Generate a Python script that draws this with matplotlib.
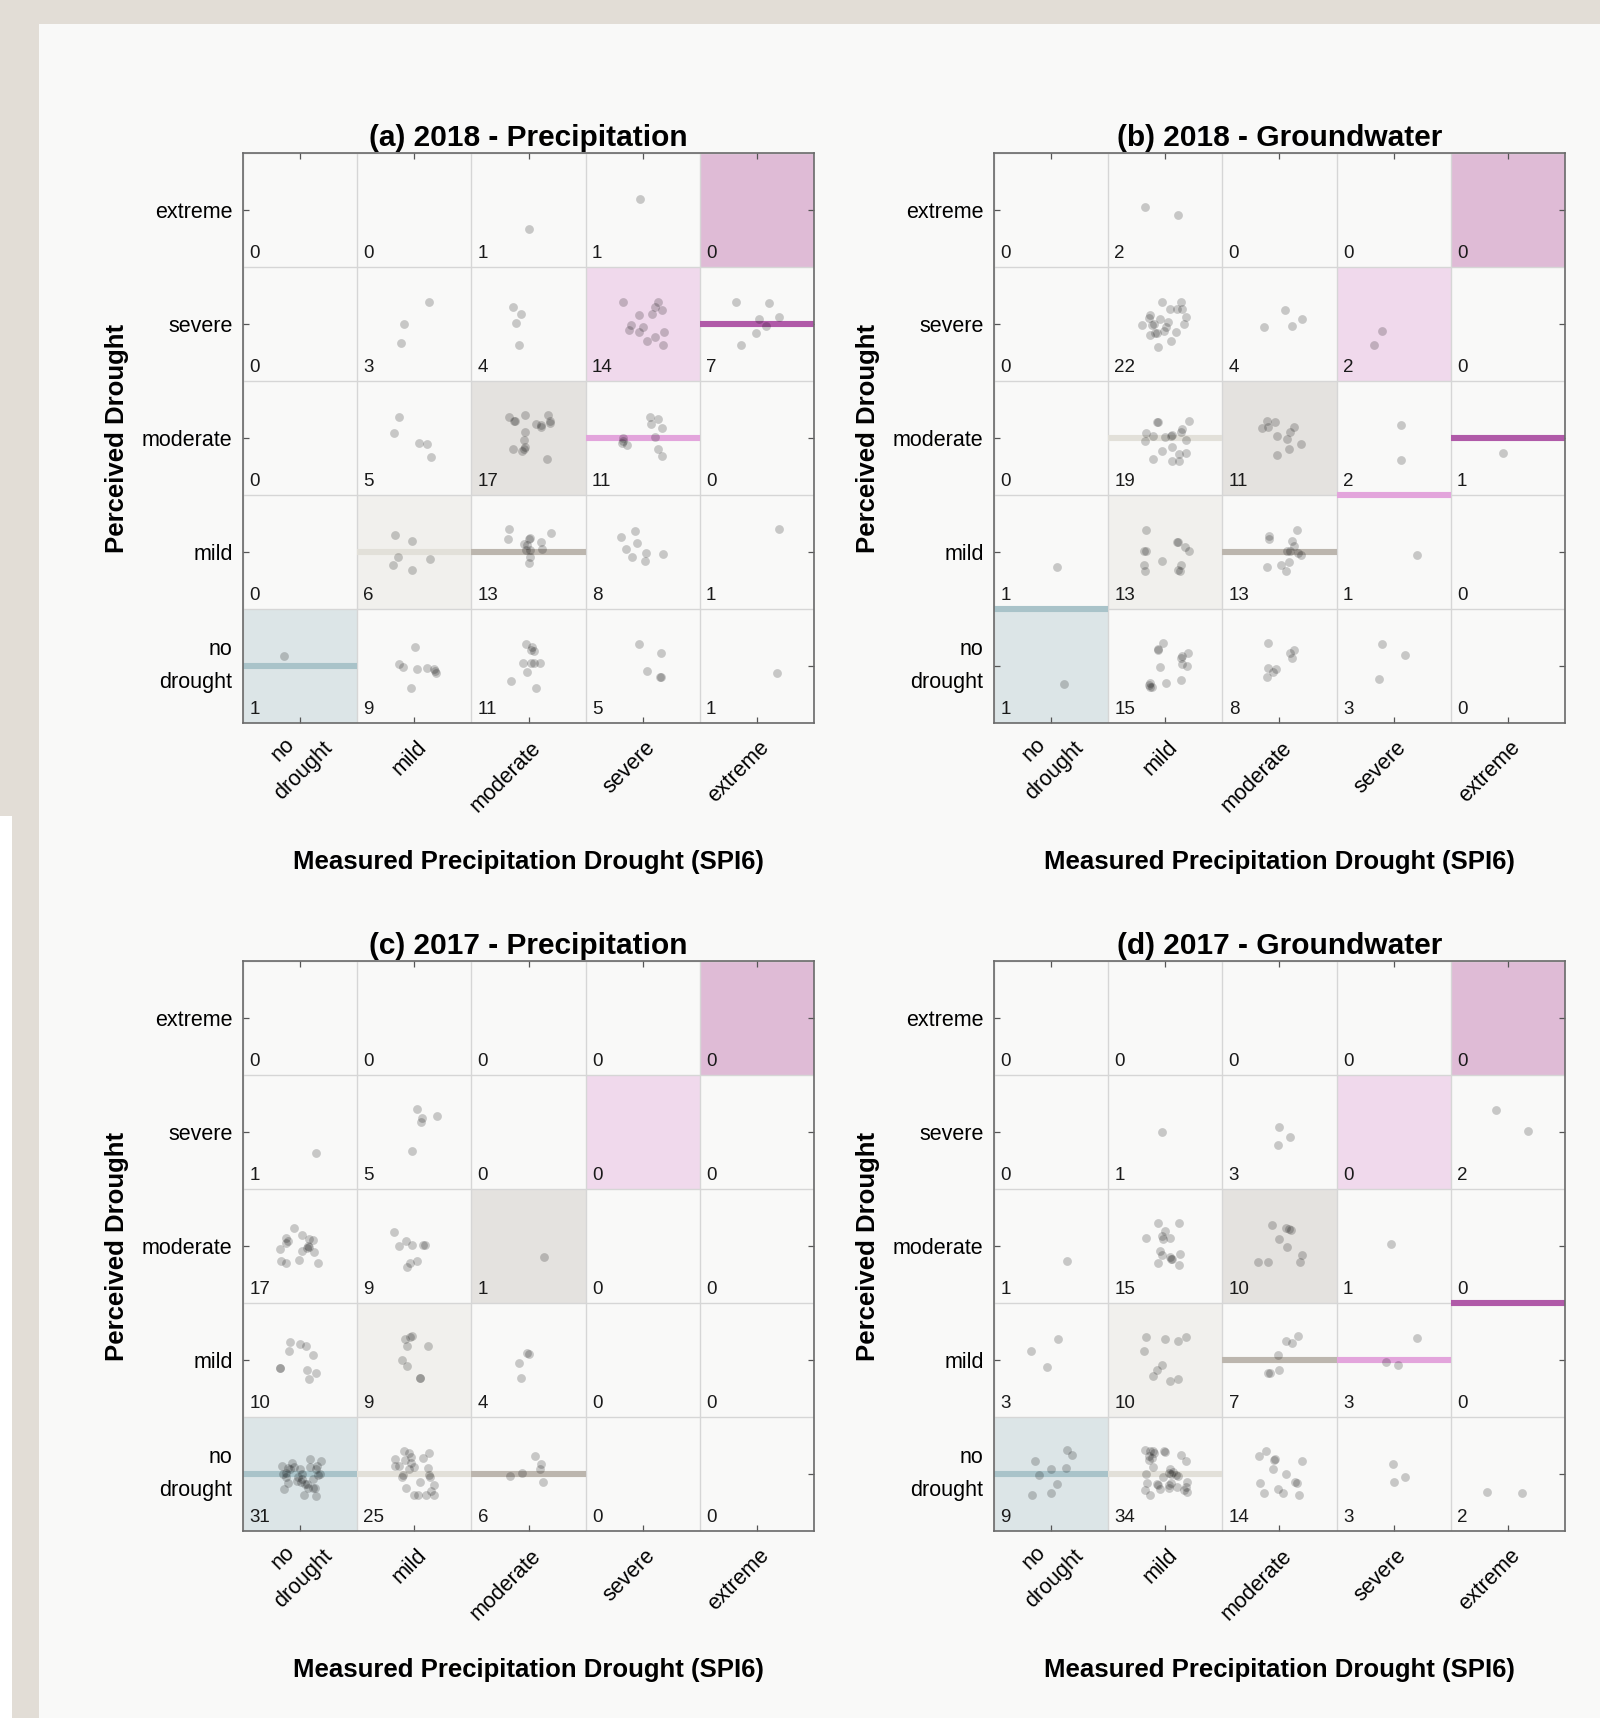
import matplotlib
matplotlib.use("Agg")
import matplotlib.pyplot as plt
import matplotlib.transforms as mtransforms
import numpy as np

from matplotlib.patches import Rectangle

plt.rcParams['font.family'] = ['Liberation Sans', 'DejaVu Sans']

classes = ["no\ndrought", "mild", "moderate", "severe", "extreme"]
titles = ["(a) 2018 - Precipitation", "(b) 2018 - Groundwater",
          "(c) 2017 - Precipitation", "(d) 2017 - Groundwater"]
xlabel = "Measured Precipitation Drought (SPI6)"
ylabel = "Perceived Drought"

# counts per cell, rows from top (extreme) to bottom (no drought),
# columns from no drought to extreme (measured)
counts_a = [[0, 0, 1, 1, 0],
            [0, 3, 4, 14, 7],
            [0, 5, 17, 11, 0],
            [0, 6, 13, 8, 1],
            [1, 9, 11, 5, 1]]
counts_b = [[0, 2, 0, 0, 0],
            [0, 22, 4, 2, 0],
            [0, 19, 11, 2, 1],
            [1, 13, 13, 1, 0],
            [1, 15, 8, 3, 0]]
counts_c = [[0, 0, 0, 0, 0],
            [1, 5, 0, 0, 0],
            [17, 9, 1, 0, 0],
            [10, 9, 4, 0, 0],
            [31, 25, 6, 0, 0]]
counts_d = [[0, 0, 0, 0, 0],
            [0, 1, 3, 0, 2],
            [1, 15, 10, 1, 0],
            [3, 10, 7, 3, 0],
            [9, 34, 14, 3, 2]]

# jittered answers, key = (measured, perceived), values = offsets from cell centre
jit_a = {
    (2, 4): [(0.00, -0.17)],
    (3, 4): [(-0.02, 0.10)],
    (1, 3): [(0.13, 0.19), (-0.09, 0.00), (-0.12, -0.17)],
    (2, 3): [(-0.14, 0.15), (-0.07, 0.09), (-0.11, 0.01), (-0.08, -0.18)],
    (3, 3): [(-0.17, 0.19), (0.13, 0.19), (0.11, 0.15), (0.17, 0.12), (0.08, 0.09), (-0.03, 0.08),
             (-0.10, -0.01), (0.00, -0.03), (-0.12, -0.05), (-0.03, -0.07), (0.19, -0.07),
             (0.11, -0.11), (0.04, -0.15), (0.18, -0.18)],
    (4, 3): [(-0.18, 0.19), (0.11, 0.18), (0.19, 0.06), (0.02, 0.04), (0.08, -0.02), (-0.01, -0.08),
             (-0.14, -0.18)],
    (1, 2): [(-0.13, 0.18), (-0.18, 0.04), (0.04, -0.04), (0.11, -0.05), (0.15, -0.17)],
    (2, 2): [(-0.17, 0.18), (-0.13, 0.15), (-0.12, 0.15), (-0.03, 0.20), (0.17, 0.20), (0.19, 0.15),
             (0.19, 0.13), (0.11, 0.11), (0.07, 0.12), (0.11, 0.10), (-0.03, 0.05), (-0.04, -0.02),
             (-0.03, -0.08), (-0.14, -0.10), (-0.06, -0.11), (-0.04, -0.10), (0.16, -0.18)],
    (3, 2): [(0.06, 0.18), (0.13, 0.17), (0.07, 0.12), (0.17, 0.09), (0.11, 0.01), (-0.17, 0.00),
             (-0.18, -0.04), (-0.17, -0.03), (-0.14, -0.06), (0.13, -0.10), (0.17, -0.16)],
    (1, 1): [(-0.17, 0.15), (-0.02, 0.10), (-0.14, -0.04), (-0.19, -0.11), (0.14, -0.06), (-0.02, -0.16)],
    (2, 1): [(-0.17, 0.20), (0.20, 0.17), (-0.18, 0.11), (0.01, 0.12), (0.00, 0.11), (0.11, 0.09),
             (-0.04, 0.07), (0.12, 0.03), (-0.02, 0.02), (0.01, 0.02), (0.01, -0.04), (0.00, -0.10),
             (-0.01, 0.06)],
    (3, 1): [(-0.07, 0.18), (-0.19, 0.13), (-0.05, 0.08), (-0.15, 0.03), (-0.09, -0.04), (0.03, -0.01),
             (0.18, -0.02), (0.02, -0.08)],
    (4, 1): [(0.19, 0.20)],
    (0, 0): [(-0.14, 0.09)],
    (1, 0): [(0.01, 0.17), (-0.13, 0.02), (-0.10, -0.01), (0.02, -0.03), (0.11, -0.02), (0.17, -0.03),
             (0.19, -0.06), (0.18, -0.04), (-0.03, -0.19)],
    (2, 0): [(-0.02, 0.19), (0.03, 0.17), (0.05, 0.13), (-0.05, 0.03), (0.02, 0.03), (0.05, 0.03),
             (0.10, 0.03), (-0.01, -0.05), (-0.15, -0.13), (0.07, -0.19), (0.02, 0.14)],
    (3, 0): [(-0.03, 0.19), (0.16, 0.11), (0.04, -0.04), (0.15, -0.10), (0.16, -0.10)],
    (4, 0): [(0.18, -0.06)],
}
jit_b = {
    (1, 4): [(-0.18, 0.03), (0.11, -0.04)],
    (1, 3): [(-0.03, 0.19), (0.14, 0.19), (0.04, 0.13), (0.10, 0.13), (0.15, 0.13), (-0.13, 0.08),
             (-0.14, 0.05), (-0.20, -0.01), (-0.12, -0.01), (-0.05, 0.04), (0.02, 0.02), (0.18, 0.06),
             (0.16, 0.00), (0.09, -0.07), (-0.01, -0.06), (-0.07, -0.08), (-0.09, -0.08), (-0.13, -0.10),
             (0.05, -0.15), (-0.06, -0.20), (0.01, -0.03), (-0.10, 0.00)],
    (2, 3): [(0.05, 0.12), (0.20, 0.04), (-0.14, -0.03), (0.11, -0.02)],
    (3, 3): [(-0.10, -0.06), (-0.17, -0.18)],
    (1, 2): [(-0.07, 0.14), (-0.06, 0.14), (0.21, 0.15), (0.15, 0.08), (0.14, 0.05), (-0.17, 0.04),
             (-0.11, 0.02), (-0.18, -0.03), (0.05, 0.02), (0.06, 0.03), (0.00, 0.01), (0.18, -0.02),
             (0.06, -0.08), (-0.03, -0.11), (0.18, -0.13), (0.12, -0.14), (-0.11, -0.18), (0.06, -0.20),
             (0.12, -0.20)],
    (2, 2): [(-0.11, 0.15), (-0.04, 0.14), (-0.15, 0.09), (-0.10, 0.10), (0.13, 0.10), (0.09, 0.05),
             (-0.02, 0.02), (0.07, -0.01), (0.19, -0.05), (0.08, -0.10), (-0.02, -0.15)],
    (3, 2): [(0.06, 0.11), (0.06, -0.19)],
    (4, 2): [(-0.04, -0.13)],
    (0, 1): [(0.05, -0.13)],
    (1, 1): [(-0.17, 0.19), (0.10, 0.09), (0.11, 0.09), (0.17, 0.04), (0.21, 0.01), (-0.19, 0.01),
             (-0.17, 0.01), (-0.03, -0.08), (-0.19, -0.11), (0.14, -0.11), (-0.18, -0.17), (0.11, -0.16),
             (0.13, -0.17)],
    (2, 1): [(0.15, 0.19), (-0.09, 0.14), (-0.09, 0.11), (0.11, 0.10), (0.13, 0.05), (0.07, 0.01),
             (0.09, 0.01), (0.19, -0.03), (0.16, -0.01), (0.08, -0.09), (0.01, -0.11), (-0.11, -0.13),
             (0.06, -0.17)],
    (3, 1): [(0.20, -0.03)],
    (0, 0): [(0.11, -0.16)],
    (1, 0): [(-0.02, 0.20), (-0.06, 0.15), (-0.06, 0.14), (0.20, 0.11), (0.15, 0.09), (0.14, 0.07),
             (-0.05, -0.01), (0.15, 0.02), (0.19, 0.00), (0.14, -0.12), (0.01, -0.15), (-0.13, -0.15),
             (-0.13, -0.18), (-0.12, -0.18), (-0.14, -0.17)],
    (2, 0): [(-0.10, 0.20), (0.13, 0.14), (0.09, 0.11), (0.11, 0.07), (-0.10, -0.02), (-0.03, -0.03),
             (-0.06, -0.05), (-0.11, -0.10)],
    (3, 0): [(-0.10, 0.19), (0.10, 0.10), (-0.13, -0.11)],
}
jit_c = {
    (0, 3): [(0.14, -0.18)],
    (1, 3): [(0.02, 0.20), (0.07, 0.12), (0.06, 0.09), (0.20, 0.14), (-0.02, -0.17)],
    (0, 2): [(-0.05, 0.16), (-0.12, 0.07), (0.02, 0.10), (0.08, 0.06), (0.11, 0.05), (-0.12, 0.03),
             (-0.11, 0.04), (-0.18, -0.03), (0.02, -0.04), (0.06, -0.02), (0.08, -0.01), (0.07, 0.00),
             (0.12, -0.05), (-0.17, -0.13), (-0.12, -0.15), (-0.01, -0.12), (0.16, -0.15)],
    (1, 2): [(-0.18, 0.12), (-0.07, 0.04), (-0.13, 0.00), (-0.02, 0.01), (0.08, 0.01), (0.09, 0.01),
             (0.02, -0.13), (-0.04, -0.15), (-0.06, -0.18)],
    (2, 2): [(0.14, -0.10)],
    (0, 1): [(-0.09, 0.16), (0.00, 0.14), (0.05, 0.12), (-0.10, 0.08), (0.11, 0.04), (-0.18, -0.07),
             (-0.18, -0.07), (0.06, -0.09), (0.14, -0.11), (0.08, -0.17)],
    (1, 1): [(-0.08, 0.18), (-0.04, 0.20), (-0.02, 0.21), (-0.06, 0.12), (0.12, 0.12), (-0.11, 0.00),
             (-0.06, -0.05), (0.05, -0.16), (0.05, -0.16)],
    (2, 1): [(-0.01, 0.06), (0.00, 0.05), (-0.08, -0.03), (-0.07, -0.16)],
    (0, 0): [(0.09, 0.13), (0.18, 0.11), (-0.07, 0.10), (-0.16, 0.07), (0.15, 0.07), (0.09, 0.06),
             (-0.11, 0.05), (0.00, 0.04), (-0.12, 0.01), (0.02, 0.00), (0.17, 0.00), (0.16, -0.01),
             (-0.12, -0.03), (-0.02, -0.03), (0.02, -0.04), (0.11, -0.04), (-0.11, -0.08), (-0.03, -0.06),
             (0.04, -0.09), (0.07, -0.12), (0.11, -0.12), (0.13, -0.12), (-0.14, -0.13), (0.03, -0.18),
             (0.14, -0.19), (-0.05, 0.06), (-0.09, 0.04), (0.06, -0.09), (0.01, -0.07), (0.14, 0.04),
             (-0.15, 0.00)],
    (1, 0): [(-0.09, 0.20), (-0.05, 0.18), (-0.03, 0.15), (0.13, 0.18), (0.08, 0.14), (-0.17, 0.13),
             (-0.08, 0.12), (-0.03, 0.10), (-0.17, 0.07), (-0.13, 0.07), (0.00, 0.06), (-0.10, -0.01),
             (-0.11, -0.03), (0.13, -0.01), (0.14, -0.03), (0.05, -0.07), (0.17, -0.10), (-0.07, -0.12),
             (0.15, -0.15), (0.00, -0.18), (0.03, -0.18), (0.10, -0.18), (0.17, -0.18), (-0.05, 0.04),
             (0.12, 0.05)],
    (2, 0): [(0.06, 0.16), (0.11, 0.09), (0.10, 0.04), (-0.06, 0.01), (-0.16, -0.02), (0.13, -0.07)],
}
jit_d = {
    (1, 3): [(-0.03, 0.00)],
    (2, 3): [(0.00, 0.04), (0.09, -0.04), (-0.01, -0.11)],
    (4, 3): [(-0.10, 0.19), (0.18, 0.01)],
    (0, 2): [(0.14, -0.13)],
    (1, 2): [(-0.06, 0.20), (0.12, 0.20), (0.00, 0.13), (-0.03, 0.09), (0.04, 0.07), (-0.17, 0.07),
             (-0.02, 0.06), (-0.05, -0.04), (0.13, -0.07), (-0.03, -0.08), (0.06, -0.11), (0.05, -0.11),
             (-0.06, -0.15), (0.12, -0.17), (0.04, -0.10)],
    (2, 2): [(-0.07, 0.18), (0.06, 0.16), (0.08, 0.15), (0.10, 0.14), (0.00, 0.06), (0.07, -0.01),
             (0.20, -0.08), (-0.19, -0.14), (-0.10, -0.14), (0.18, -0.14)],
    (3, 2): [(-0.02, 0.02)],
    (0, 1): [(0.06, 0.18), (-0.18, 0.08), (-0.04, -0.06)],
    (1, 1): [(-0.17, 0.20), (0.00, 0.18), (0.11, 0.17), (0.18, 0.20), (-0.19, 0.08), (-0.03, -0.04),
             (-0.07, -0.09), (-0.11, -0.14), (0.04, -0.18), (0.11, -0.17)],
    (2, 1): [(0.16, 0.21), (0.11, 0.15), (0.06, 0.17), (-0.01, 0.04), (0.00, -0.09), (-0.08, -0.11),
             (-0.10, -0.11)],
    (3, 1): [(0.20, 0.19), (-0.07, -0.02), (0.04, -0.04)],
    (0, 0): [(0.14, 0.21), (0.18, 0.17), (-0.14, 0.11), (0.00, 0.04), (0.13, 0.05), (-0.11, -0.01),
             (0.05, -0.09), (-0.17, -0.18), (0.00, -0.17)],
    (1, 0): [(-0.18, 0.21), (-0.13, 0.20), (-0.11, 0.20), (-0.01, 0.20), (0.00, 0.19), (-0.14, 0.16),
             (-0.12, 0.14), (-0.14, 0.12), (0.14, 0.17), (0.18, 0.11), (-0.11, 0.06), (0.04, 0.04),
             (0.07, 0.02), (0.03, 0.01), (0.09, -0.01), (0.11, -0.02), (0.05, 0.00), (-0.16, -0.08),
             (-0.07, -0.09), (-0.06, -0.10), (0.03, -0.10), (0.05, -0.08), (0.19, -0.07), (0.18, -0.11),
             (-0.18, -0.14), (-0.13, -0.18), (-0.05, -0.13), (0.03, -0.12), (0.10, -0.11), (0.16, -0.14),
             (0.19, -0.16), (-0.17, 0.00), (-0.02, -0.03), (-0.10, 0.18)],
    (2, 0): [(-0.12, 0.20), (-0.18, 0.16), (-0.04, 0.13), (-0.05, 0.12), (0.20, 0.11), (-0.06, 0.04),
             (0.06, 0.00), (0.14, -0.07), (0.15, -0.08), (-0.17, -0.08), (-0.01, -0.13), (0.03, -0.17),
             (-0.14, -0.17), (0.17, -0.18)],
    (3, 0): [(-0.01, 0.09), (0.10, -0.03), (0.00, -0.07)],
    (4, 0): [(-0.18, -0.16), (0.12, -0.17)],
}

cell_colors = ["#dce5e7", "#f1f0ed", "#e4e2df", "#f0d9ec", "#dfbbd6"]
line_colors = ["#a9c3c9", "#e2e0d9", "#bcb6ae", "#e3a5dc", "#b05aa8"]
bg = "#f9f9f8"

fig = plt.figure(figsize=(16, 17.18), dpi=100, facecolor=bg)

# page decoration around the chart
fig.patches.append(Rectangle((0, 1 - 24 / 1718), 1, 24 / 1718, transform=fig.transFigure,
                             fc="#e2ddd6", ec="none", zorder=-10))
fig.patches.append(Rectangle((0, 0), 39 / 1600, 1, transform=fig.transFigure,
                             fc="#e2ddd6", ec="none", zorder=-10))
fig.patches.append(Rectangle((0, 0), 12 / 1600, 1 - 816 / 1718, transform=fig.transFigure,
                             fc="white", ec="none", zorder=-9))

panels = [(counts_a, jit_a), (counts_b, jit_b), (counts_c, jit_c), (counts_d, jit_d)]
lefts = [243 / 1600, 994 / 1600]
bottoms = [1 - 723 / 1718, 1 - 1531 / 1718]
w, h = 571 / 1600, 570 / 1718

for k, (counts, jit) in enumerate(panels):
    ax = fig.add_axes([lefts[k % 2], bottoms[k // 2], w, h])
    ax.set_facecolor(bg)
    cnt = np.flipud(np.array(counts))  # row index = perceived class (0 = no drought)

    # diagonal cells (measured == perceived)
    for i in range(5):
        ax.add_patch(Rectangle((i - 0.5, i - 0.5), 1, 1, fc=cell_colors[i], ec="none", zorder=0.2))

    # cell borders
    for b in np.arange(-0.5, 5, 1):
        ax.axvline(b, color="#d6d6d6", lw=1.0, zorder=0.6)
        ax.axhline(b, color="#d6d6d6", lw=1.0, zorder=0.6)

    # median perceived class for each measured class
    for j in range(5):
        vals = np.repeat(np.arange(5), cnt[:, j])
        if len(vals) == 0:
            continue
        med = np.median(vals)
        ax.hlines(med, j - 0.5, j + 0.5, color=line_colors[j], lw=4.4, zorder=2)

    # answers
    xs, ys = [], []
    for (mx, py), offs in jit.items():
        for dx, dy in offs:
            xs.append(mx + dx)
            ys.append(py + dy)
    ax.scatter(xs, ys, s=40, color="black", alpha=0.2, lw=0, zorder=3)

    # counts
    for py in range(5):
        for mx in range(5):
            ax.text(mx - 0.445, py - 0.425, str(cnt[py, mx]), fontsize=13.5,
                    color="#1a1a1a", ha="left", va="baseline", zorder=4)

    ax.set_xlim(-0.5, 4.5)
    ax.set_ylim(-0.5, 4.5)
    ax.set_xticks(range(5))
    ax.set_yticks(range(5))
    ax.set_xticklabels([])
    ax.set_yticklabels(classes, fontsize=15.5, linespacing=1.8)
    for t in ax.get_yticklabels():
        t.set_va("center" if "\n" in t.get_text() else "center_baseline")
    ax.tick_params(direction="in", length=4, width=0.9, color="#555555",
                   top=True, right=True, pad=7.5)
    for s in ax.spines.values():
        s.set_color("#6a6a6a")
        s.set_linewidth(1.2)
        s.set_zorder(5)

    trans = mtransforms.blended_transform_factory(ax.transData, ax.transAxes)
    for i, lab in enumerate(classes):
        two = "\n" in lab
        ax.text(i + (0.17 if two else 0.08), -0.038 + (0.018 if two else 0.0), lab,
                transform=trans, rotation=45, rotation_mode="anchor",
                ha="right", va="center", multialignment="center", fontsize=15.5,
                linespacing=1.5)

    ax.text(0.5, 1.027, titles[k], transform=ax.transAxes, ha="center", va="center",
            fontsize=21.5, fontweight="bold")
    ax.text(0.5, -0.244, xlabel, transform=ax.transAxes, ha="center", va="center",
            fontsize=18.5, fontweight="bold")
    ax.text(-0.221, 0.5, ylabel, transform=ax.transAxes, ha="center", va="center",
            rotation=90, fontsize=18.5, fontweight="bold")

fig.savefig("out.png", dpi=100, facecolor=bg)
